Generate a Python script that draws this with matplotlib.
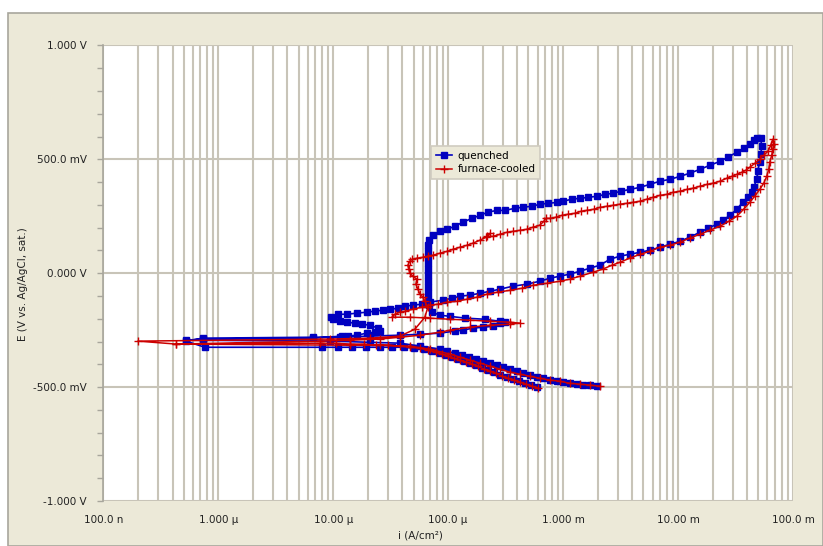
import matplotlib
matplotlib.use("Agg")
import matplotlib.pyplot as plt
from matplotlib.patches import Rectangle
from matplotlib.ticker import MultipleLocator, LogLocator, NullFormatter

plt.rcParams['font.family'] = ['DejaVu Sans']

# quenched sample: current density (A/cm2) and potential (V vs Ag/AgCl)
quenched_i = [
    5.90e-4, 5.24e-4, 4.64e-4, 4.12e-4, 3.65e-4, 3.24e-4, 2.82e-4, 2.49e-4, 2.21e-4, 1.96e-4,
    1.74e-4, 1.55e-4, 1.37e-4, 1.21e-4, 1.08e-4, 9.55e-5, 8.47e-5, 7.21e-5, 6.15e-5, 5.03e-5,
    4.12e-5, 3.24e-5, 2.55e-5, 1.92e-5, 1.45e-5, 1.10e-5, 7.98e-6,
    7.66e-7, 5.24e-7, 7.36e-7, 6.65e-6, 1.14e-5, 2.08e-5, 3.80e-5, 5.68e-5, 8.47e-5,
    1.14e-4, 1.34e-4, 1.64e-4, 2.00e-4, 2.45e-4, 2.82e-4, 3.11e-4, 2.82e-4, 2.08e-4, 1.40e-4,
    1.035e-4, 8.47e-5, 7.21e-5, 6.79e-5, 6.66e-5, 6.66e-5, 6.66e-5, 6.66e-5, 6.66e-5, 6.66e-5,
    6.66e-5, 6.66e-5, 6.66e-5, 6.66e-5, 6.79e-5, 7.36e-5, 8.47e-5, 9.75e-5, 1.14e-4, 1.34e-4,
    1.61e-4, 1.89e-4, 2.21e-4, 2.65e-4, 3.11e-4, 3.80e-4, 4.46e-4, 5.35e-4, 6.27e-4, 7.36e-4,
    8.81e-4, 9.94e-4, 1.19e-3, 1.40e-3, 1.64e-3, 1.96e-3, 2.31e-3, 2.70e-3, 3.18e-3, 3.80e-3,
    4.64e-3, 5.68e-3, 6.93e-3, 8.47e-3, 1.035e-2, 1.26e-2, 1.55e-2, 1.89e-2, 2.31e-2, 2.70e-2,
    3.24e-2, 3.72e-2, 4.20e-2, 4.55e-2, 4.83e-2, 5.24e-2, 5.35e-2, 5.24e-2, 5.13e-2, 4.93e-2,
    4.83e-2, 4.55e-2, 4.37e-2, 4.04e-2, 3.65e-2, 3.24e-2, 2.82e-2, 2.45e-2, 2.17e-2, 1.81e-2,
    1.55e-2, 1.26e-2, 1.035e-2, 8.47e-3, 6.93e-3, 5.68e-3, 4.64e-3, 3.80e-3, 3.11e-3, 2.55e-3,
    2.08e-3, 1.71e-3, 1.40e-3, 1.14e-3, 9.36e-4, 7.66e-4, 6.27e-4, 4.83e-4, 3.65e-4, 2.82e-4,
    2.31e-4, 1.89e-4, 1.55e-4, 1.26e-4, 1.08e-4, 8.99e-5, 6.93e-5, 5.90e-5, 4.93e-5, 4.20e-5,
    3.65e-5, 3.11e-5, 2.71e-5, 2.31e-5, 1.96e-5, 1.61e-5, 1.32e-5, 1.10e-5, 9.55e-6, 9.94e-6,
    1.14e-5, 1.32e-5, 1.54e-5, 1.78e-5, 2.08e-5, 2.45e-5, 2.55e-5, 2.31e-5, 1.96e-5, 1.61e-5,
    1.34e-5, 1.19e-5, 6.65e-6, 7.36e-7, 5.24e-7, 9.36e-6,
    2.08e-5, 3.80e-5, 5.68e-5, 8.47e-5, 9.75e-5, 1.14e-4, 1.32e-4, 1.51e-4, 1.74e-4, 2.00e-4,
    2.31e-4, 2.65e-4, 2.99e-4, 3.44e-4, 3.96e-4, 4.46e-4, 5.13e-4, 5.90e-4, 6.66e-4, 7.66e-4,
    8.81e-4, 9.94e-4, 1.14e-3, 1.32e-3, 1.48e-3, 1.71e-3, 1.96e-3,
]
quenched_E = [
    -0.500, -0.491, -0.482, -0.474, -0.465, -0.456, -0.447, -0.434, -0.425, -0.417,
    -0.404, -0.395, -0.386, -0.377, -0.368, -0.360, -0.351, -0.342, -0.333, -0.329,
    -0.325, -0.325, -0.325, -0.325, -0.325, -0.325, -0.325,
    -0.325, -0.298, -0.285, -0.281, -0.281, -0.276, -0.272, -0.268, -0.263,
    -0.254, -0.250, -0.241, -0.237, -0.233, -0.219, -0.215, -0.211, -0.202, -0.197,
    -0.189, -0.184, -0.171, -0.140, -0.114, -0.088, -0.061, -0.035, -0.009, 0.018,
    0.044, 0.070, 0.096, 0.123, 0.145, 0.167, 0.184, 0.193, 0.206, 0.224,
    0.241, 0.254, 0.268, 0.276, 0.276, 0.285, 0.290, 0.294, 0.303, 0.307,
    0.311, 0.316, 0.325, 0.329, 0.333, 0.338, 0.346, 0.351, 0.360, 0.368,
    0.377, 0.390, 0.404, 0.412, 0.425, 0.439, 0.456, 0.474, 0.491, 0.509,
    0.531, 0.548, 0.566, 0.583, 0.596, 0.592, 0.557, 0.522, 0.487, 0.447,
    0.412, 0.377, 0.355, 0.333, 0.311, 0.281, 0.254, 0.232, 0.215, 0.197,
    0.180, 0.158, 0.140, 0.127, 0.114, 0.101, 0.092, 0.083, 0.075, 0.061,
    0.035, 0.022, 0.009, -0.004, -0.013, -0.022, -0.035, -0.048, -0.057, -0.070,
    -0.079, -0.088, -0.096, -0.101, -0.110, -0.118, -0.127, -0.136, -0.140, -0.145,
    -0.154, -0.158, -0.162, -0.167, -0.171, -0.175, -0.180, -0.180, -0.193, -0.202,
    -0.211, -0.215, -0.219, -0.224, -0.228, -0.241, -0.254, -0.259, -0.263, -0.272,
    -0.276, -0.276, -0.285, -0.289, -0.294, -0.298,
    -0.303, -0.307, -0.320, -0.333, -0.342, -0.351, -0.360, -0.368, -0.377, -0.386,
    -0.395, -0.404, -0.412, -0.421, -0.430, -0.439, -0.447, -0.456, -0.461, -0.469,
    -0.474, -0.478, -0.483, -0.487, -0.491, -0.491, -0.496,
]

# furnace-cooled sample
furnace_i = [
    6.03e-4, 5.35e-4, 4.74e-4, 4.20e-4, 3.72e-4, 3.30e-4, 2.93e-4, 2.60e-4, 2.31e-4, 2.04e-4,
    1.81e-4, 1.61e-4, 1.43e-4, 1.26e-4, 1.12e-4, 9.94e-5, 8.81e-5, 7.81e-5, 6.66e-5, 5.68e-5,
    4.64e-5, 3.80e-5, 2.99e-5, 2.35e-5, 1.85e-5, 1.40e-5, 1.05e-5, 7.66e-6,
    4.3e-7, 2.0e-7, 9.36e-6, 2.08e-5, 3.80e-5, 5.13e-5,
    6.27e-5, 6.66e-5, 6.27e-5, 6.03e-5, 5.68e-5, 5.45e-5, 5.24e-5, 5.35e-5, 4.93e-5, 4.64e-5,
    4.55e-5, 4.46e-5, 4.64e-5, 4.83e-5, 5.35e-5, 6.03e-5, 6.66e-5, 7.36e-5, 8.47e-5, 9.75e-5,
    1.10e-4, 1.26e-4, 1.46e-4, 1.64e-4, 1.89e-4, 2.13e-4, 2.31e-4, 2.17e-4, 2.45e-4, 2.82e-4,
    3.24e-4, 3.65e-4, 4.20e-4, 4.83e-4, 5.45e-4, 6.27e-4, 6.79e-4, 7.08e-4, 7.66e-4, 8.65e-4,
    9.75e-4, 1.10e-3, 1.26e-3, 1.43e-3, 1.61e-3, 1.85e-3, 2.08e-3, 2.40e-3, 2.70e-3, 3.11e-3,
    3.58e-3, 4.04e-3, 4.64e-3, 5.35e-3, 6.03e-3, 6.93e-3, 7.98e-3, 8.99e-3, 1.035e-2, 1.19e-2,
    1.34e-2, 1.55e-2, 1.78e-2, 2.00e-2, 2.31e-2, 2.65e-2, 2.93e-2, 3.24e-2, 3.58e-2, 3.88e-2,
    4.20e-2, 4.64e-2, 5.13e-2, 5.56e-2, 6.03e-2, 6.40e-2, 6.66e-2, 6.79e-2, 6.66e-2, 6.53e-2,
    6.27e-2, 6.15e-2, 5.90e-2, 5.56e-2, 5.13e-2, 4.64e-2, 4.20e-2, 3.72e-2, 3.24e-2, 2.76e-2,
    2.31e-2, 1.89e-2, 1.55e-2, 1.26e-2, 1.035e-2, 8.47e-3, 6.93e-3, 5.68e-3, 4.64e-3, 3.80e-3,
    3.11e-3, 2.65e-3, 2.21e-3, 1.81e-3, 1.40e-3, 1.14e-3, 9.36e-4, 7.21e-4, 5.45e-4, 4.37e-4,
    3.44e-4, 2.70e-4, 2.17e-4, 1.78e-4, 1.46e-4, 1.19e-4, 9.75e-5, 8.13e-5, 6.93e-5, 5.90e-5,
    4.93e-5, 4.20e-5, 3.80e-5, 3.44e-5, 3.24e-5, 4.64e-5, 6.93e-5, 1.035e-4, 1.55e-4, 2.31e-4,
    3.44e-4, 4.20e-4, 3.44e-4, 2.31e-4, 1.55e-4, 1.035e-4, 8.47e-5, 5.68e-5, 3.80e-5, 2.55e-5,
    1.40e-5, 7.66e-6, 4.3e-7, 1.40e-5, 2.55e-5,
    4.64e-5, 6.93e-5, 1.035e-4, 1.26e-4, 1.55e-4, 1.89e-4, 2.31e-4, 2.82e-4, 3.44e-4, 4.20e-4,
    5.13e-4, 6.27e-4, 7.66e-4, 9.36e-4, 1.14e-3, 1.40e-3, 1.71e-3, 2.08e-3,
]
furnace_E = [
    -0.504, -0.496, -0.487, -0.478, -0.469, -0.461, -0.452, -0.439, -0.430, -0.421,
    -0.408, -0.399, -0.390, -0.382, -0.373, -0.364, -0.355, -0.347, -0.338, -0.329,
    -0.325, -0.320, -0.316, -0.316, -0.311, -0.311, -0.307, -0.307,
    -0.311, -0.298, -0.289, -0.285, -0.276, -0.246,
    -0.193, -0.149, -0.123, -0.105, -0.092, -0.070, -0.048, -0.026, -0.013, 0.000,
    0.018, 0.035, 0.053, 0.061, 0.066, 0.070, 0.075, 0.079, 0.088, 0.096,
    0.105, 0.114, 0.123, 0.132, 0.145, 0.158, 0.175, 0.162, 0.162, 0.171,
    0.180, 0.184, 0.189, 0.193, 0.202, 0.211, 0.228, 0.241, 0.241, 0.246,
    0.254, 0.259, 0.263, 0.272, 0.276, 0.281, 0.289, 0.294, 0.298, 0.303,
    0.307, 0.311, 0.316, 0.325, 0.333, 0.342, 0.346, 0.355, 0.360, 0.368,
    0.373, 0.382, 0.390, 0.395, 0.404, 0.417, 0.425, 0.434, 0.443, 0.452,
    0.465, 0.482, 0.500, 0.518, 0.535, 0.561, 0.588, 0.566, 0.544, 0.518,
    0.487, 0.456, 0.425, 0.395, 0.368, 0.338, 0.311, 0.281, 0.250, 0.228,
    0.206, 0.189, 0.171, 0.154, 0.136, 0.123, 0.114, 0.096, 0.083, 0.066,
    0.048, 0.035, 0.018, 0.004, -0.013, -0.026, -0.035, -0.044, -0.053, -0.066,
    -0.075, -0.083, -0.092, -0.105, -0.114, -0.123, -0.127, -0.136, -0.140, -0.149,
    -0.158, -0.167, -0.171, -0.180, -0.193, -0.193, -0.197, -0.202, -0.206, -0.211,
    -0.215, -0.219, -0.224, -0.228, -0.237, -0.250, -0.259, -0.272, -0.281, -0.289,
    -0.294, -0.298, -0.311, -0.316, -0.316,
    -0.320, -0.333, -0.355, -0.368, -0.382, -0.395, -0.408, -0.421, -0.434, -0.443,
    -0.452, -0.461, -0.469, -0.474, -0.483, -0.487, -0.491, -0.496,
]

x_ticks = [1e-7, 1e-6, 1e-5, 1e-4, 1e-3, 1e-2, 1e-1]
x_labels = ['100.0 n', '1.000 µ', '10.00 µ', '100.0 µ', '1.000 m', '10.00 m', '100.0 m']
y_ticks = [-1.0, -0.5, 0.0, 0.5, 1.0]
y_labels = ['-1.000 V', '-500.0 mV', '0.000 V', '500.0 mV', '1.000 V']

W, H = 823, 546
fig = plt.figure(figsize=(W / 100, H / 100), dpi=100)
fig.patch.set_facecolor('white')
# beige panel behind the plot
fig.patches.append(Rectangle((8 / W, 0), (W - 8) / W, (H - 13) / H, transform=fig.transFigure,
                             facecolor='#ECE9D8', edgecolor='#A8A69C', lw=1.2, zorder=-10))

ax = fig.add_axes([103.3 / W, 1 - 501 / H, (793 - 103.3) / W, (501 - 45.5) / H])
ax.set_zorder(1)
ax.set_facecolor('white')
ax.set_xscale('log')
ax.set_xlim(1e-7, 1e-1)
ax.set_ylim(-1.0, 1.0)

grid_c = '#C8C4B8'
ax.set_xticks(x_ticks)
ax.set_xticklabels(x_labels)
ax.xaxis.set_minor_locator(LogLocator(base=10, subs=range(2, 10), numticks=20))
ax.xaxis.set_minor_formatter(NullFormatter())
ax.set_yticks(y_ticks)
ax.set_yticklabels(y_labels)
ax.yaxis.set_minor_locator(MultipleLocator(0.1))
ax.grid(True, which='both', axis='x', color=grid_c, lw=1.5)
ax.grid(True, which='major', axis='y', color=grid_c, lw=1.5)
ax.set_axisbelow(True)

ax.tick_params(axis='x', which='both', length=0, pad=10, labelsize=7.5, colors='#222222')
ax.tick_params(axis='y', which='both', length=4, width=1, color='#A8A69C', pad=8,
               labelsize=7.5, labelcolor='#222222')
for s in ['top', 'right', 'bottom']:
    ax.spines[s].set_visible(False)
ax.spines['left'].set_color('#A8A69C')
ax.spines['left'].set_linewidth(1.2)

ax.plot(quenched_i, quenched_E, color='#0000C0', lw=1.2, marker='s', ms=4.2,
        mec='#0000C0', mfc='#0000C0', label='quenched', zorder=3)
ax.plot(furnace_i, furnace_E, color='#CC0000', lw=1.1, marker='+', ms=6, mew=1.0,
        label='furnace-cooled', zorder=4)

ax.set_xlabel('i (A/cm²)', fontsize=7.5, color='#222222')
ax.set_ylabel('E (V vs. Ag/AgCl, sat.)', fontsize=7.5, color='#222222')
ax.xaxis.set_label_coords((420 - 103.3) / (793 - 103.3), -(535 - 501) / (501 - 45.5))
ax.xaxis.label.set_va('center')
ax.yaxis.set_label_coords(-(103.3 - 23) / (793 - 103.3), (501 - 284) / (501 - 45.5))
ax.yaxis.label.set_va('center')

leg = ax.legend(loc='upper left', bbox_to_anchor=((431 - 103.3) / (793 - 103.3), (501 - 146) / (501 - 45.5)),
                borderaxespad=0, fontsize=7.5, frameon=True, fancybox=False, handlelength=1.6,
                handletextpad=0.5, borderpad=0.45, labelspacing=0.35)
leg.get_frame().set_facecolor('#ECE9D8')
leg.get_frame().set_edgecolor('#D0CCC0')
leg.get_frame().set_alpha(1)
leg.get_frame().set_linewidth(1.2)

fig.savefig('out.png', dpi=100)
